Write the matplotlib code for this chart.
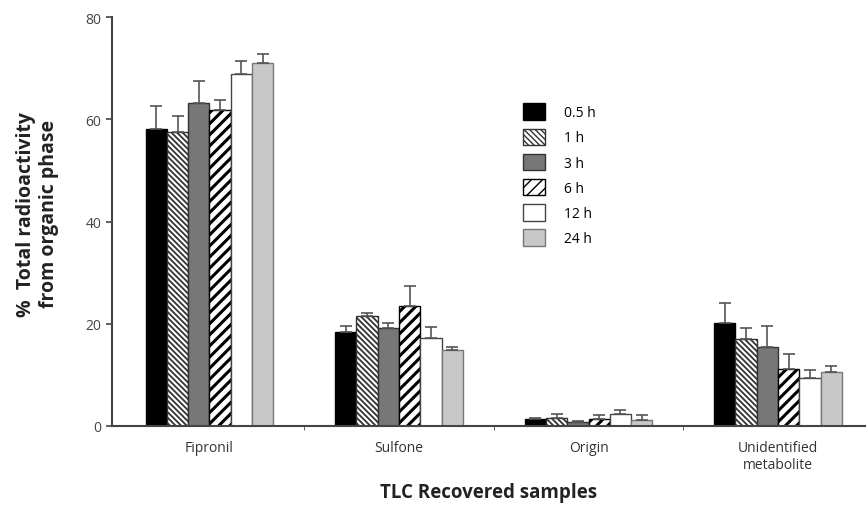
import numpy as np
import matplotlib as mpl
import matplotlib.pyplot as plt

plt.rcParams['font.family'] = ['Open Sans', 'DejaVu Sans']

categories = ['Fipronil', 'Sulfone', 'Origin', 'Unidentified\nmetabolite']
times = ['0.5 h', '1 h', '3 h', '6 h', '12 h', '24 h']

# mean values (%) per time point, one entry per category
h05 = [58.1, 18.3, 1.3, 20.1]
h1 = [57.5, 21.4, 1.6, 17.0]
h3 = [63.2, 19.1, 0.7, 15.5]
h6 = [61.9, 23.5, 1.4, 11.1]
h12 = [68.8, 17.1, 2.3, 9.3]
h24 = [71.0, 14.8, 1.2, 10.6]

# upper error (SD)
e05 = [4.6, 1.3, 0.3, 3.9]
e1 = [3.1, 0.6, 0.7, 2.1]
e3 = [4.3, 1.1, 0.3, 4.1]
e6 = [1.9, 3.9, 0.7, 2.9]
e12 = [2.7, 2.2, 0.8, 1.6]
e24 = [1.8, 0.6, 0.9, 1.0]

means = [h05, h1, h3, h6, h12, h24]
errs = [e05, e1, e3, e6, e12, e24]

styles = [
    dict(facecolor='black', edgecolor='black', hatch=None),
    dict(facecolor='white', edgecolor='#333333', hatch='\\\\\\\\\\\\'),
    dict(facecolor='#777777', edgecolor='#333333', hatch=None),
    dict(facecolor='white', edgecolor='black', hatch='///'),
    dict(facecolor='white', edgecolor='#444444', hatch=None),
    dict(facecolor='#c8c8c8', edgecolor='#777777', hatch=None),
]
hatch_lw = [1.0, 1.3, 1.0, 2.2, 1.0, 1.0]

fig = plt.figure(figsize=(8.66, 5.06), dpi=100)
ax = fig.add_axes([0.1293, 0.1567, 0.8707, 0.8071])

x = np.arange(len(categories))
w = 0.1124
for i in range(len(times)):
    pos = x + (i - 2.5) * w
    with mpl.rc_context({'hatch.linewidth': hatch_lw[i]}):
        ax.bar(pos, means[i], w, label=times[i], linewidth=1.0, **styles[i])
    ax.errorbar(pos, means[i], yerr=[np.zeros(len(categories)), errs[i]],
                fmt='none', ecolor='#555555', elinewidth=1.2, capsize=4, capthick=1.2)

ax.set_xlim(-0.5145, 3.464)
ax.set_ylim(0, 80)
ax.set_yticks([0, 20, 40, 60, 80])
ax.set_xticks(x)
ax.set_xticklabels(categories, fontsize=10, color='#333333')
ax.set_xticks([0.5, 1.5, 2.5], minor=True)
ax.tick_params(axis='x', which='major', length=0, pad=10)
ax.tick_params(axis='x', which='minor', length=3, color='#444444')
ax.tick_params(axis='y', labelsize=10, labelcolor='#444444', color='#444444', length=4, width=1.2)

for s in ['top', 'right']:
    ax.spines[s].set_visible(False)
for s in ['left', 'bottom']:
    ax.spines[s].set_color('#444444')
    ax.spines[s].set_linewidth(1.5)

ax.set_ylabel('%  Total radioactivity\nfrom organic phase', fontsize=14, fontweight='bold',
              color='#222222', linespacing=1.2)
ax.yaxis.set_label_coords(-0.070, 0.52)
ax.set_xlabel('TLC Recovered samples', fontsize=13.5, fontweight='bold', color='#222222')
ax.xaxis.set_label_coords(0.5, -0.138)

ax.legend(loc='upper left', bbox_to_anchor=(0.528, 0.82), frameon=False, fontsize=10,
          handlelength=1.6, handleheight=1.45, labelspacing=0.6, handletextpad=1.4)

plt.savefig('out.png', dpi=100)
plt.close()
